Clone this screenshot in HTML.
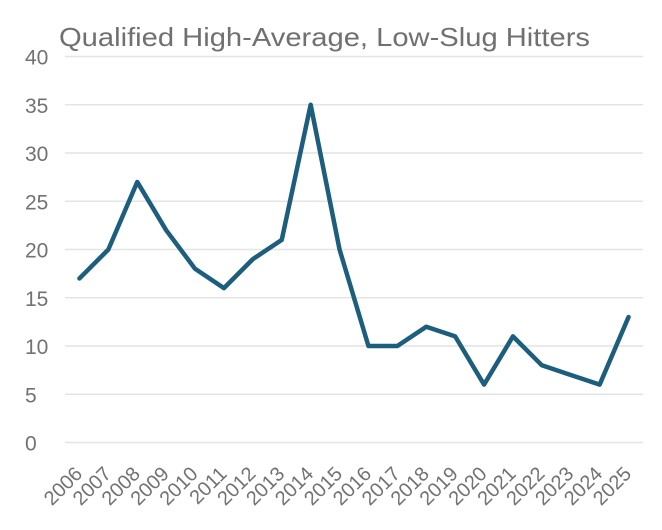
<!DOCTYPE html>
<html>
<head>
<meta charset="utf-8">
<style>
  html, body { margin: 0; padding: 0; background: #ffffff; }
  svg { display: block; }
  text { font-family: "Liberation Sans", Arial, sans-serif; }
</style>
</head>
<body>
<svg width="662" height="530" viewBox="0 0 662 530" xmlns="http://www.w3.org/2000/svg">
  <rect x="0" y="0" width="662" height="530" fill="#ffffff"/>
  <!-- Title -->
  <text x="59" y="46" font-size="26" fill="#707070" textLength="531" lengthAdjust="spacingAndGlyphs">Qualified High-Average, Low-Slug Hitters</text>

  <!-- Gridlines -->
  <g stroke="#e4e4e4" stroke-width="1.6">
    <line x1="65" y1="56.5" x2="643" y2="56.5"/>
    <line x1="65" y1="104.75" x2="643" y2="104.75"/>
    <line x1="65" y1="153" x2="643" y2="153"/>
    <line x1="65" y1="201.25" x2="643" y2="201.25"/>
    <line x1="65" y1="249.5" x2="643" y2="249.5"/>
    <line x1="65" y1="297.75" x2="643" y2="297.75"/>
    <line x1="65" y1="346" x2="643" y2="346"/>
    <line x1="65" y1="394.25" x2="643" y2="394.25"/>
    <line x1="65" y1="442.5" x2="643" y2="442.5"/>
  </g>

  <!-- Y labels -->
  <g font-size="21" fill="#727272">
    <text x="25" y="64.5">40</text>
    <text x="25" y="112.75">35</text>
    <text x="25" y="161">30</text>
    <text x="25" y="209.25">25</text>
    <text x="25" y="257.5">20</text>
    <text x="25" y="305.75">15</text>
    <text x="25" y="354">10</text>
    <text x="25" y="402.25">5</text>
    <text x="25" y="450.5">0</text>
  </g>

  <!-- Data line -->
  <polyline fill="none" stroke="#1d5e7e" stroke-width="4.5" stroke-linejoin="round" stroke-linecap="round"
    points="79.45,278.45 108.35,249.5 137.25,181.95 166.15,230.2 195.05,268.8 223.95,288.1 252.85,259.15 281.75,239.85 310.65,104.75 339.55,249.5 368.45,346 397.35,346 426.25,326.7 455.15,336.35 484.05,384.6 512.95,336.35 541.85,365.3 570.75,374.95 599.65,384.6 628.55,317.05"/>

  <!-- X labels -->
  <g font-size="20" fill="#727272" text-anchor="end">
    <text transform="translate(83.45,475) rotate(-45)">2006</text>
    <text transform="translate(112.35,475) rotate(-45)">2007</text>
    <text transform="translate(141.25,475) rotate(-45)">2008</text>
    <text transform="translate(170.15,475) rotate(-45)">2009</text>
    <text transform="translate(199.05,475) rotate(-45)">2010</text>
    <text transform="translate(227.95,475) rotate(-45)">2011</text>
    <text transform="translate(256.85,475) rotate(-45)">2012</text>
    <text transform="translate(285.75,475) rotate(-45)">2013</text>
    <text transform="translate(314.65,475) rotate(-45)">2014</text>
    <text transform="translate(343.55,475) rotate(-45)">2015</text>
    <text transform="translate(372.45,475) rotate(-45)">2016</text>
    <text transform="translate(401.35,475) rotate(-45)">2017</text>
    <text transform="translate(430.25,475) rotate(-45)">2018</text>
    <text transform="translate(459.15,475) rotate(-45)">2019</text>
    <text transform="translate(488.05,475) rotate(-45)">2020</text>
    <text transform="translate(516.95,475) rotate(-45)">2021</text>
    <text transform="translate(545.85,475) rotate(-45)">2022</text>
    <text transform="translate(574.75,475) rotate(-45)">2023</text>
    <text transform="translate(603.65,475) rotate(-45)">2024</text>
    <text transform="translate(632.55,475) rotate(-45)">2025</text>
  </g>
</svg>
</body>
</html>
